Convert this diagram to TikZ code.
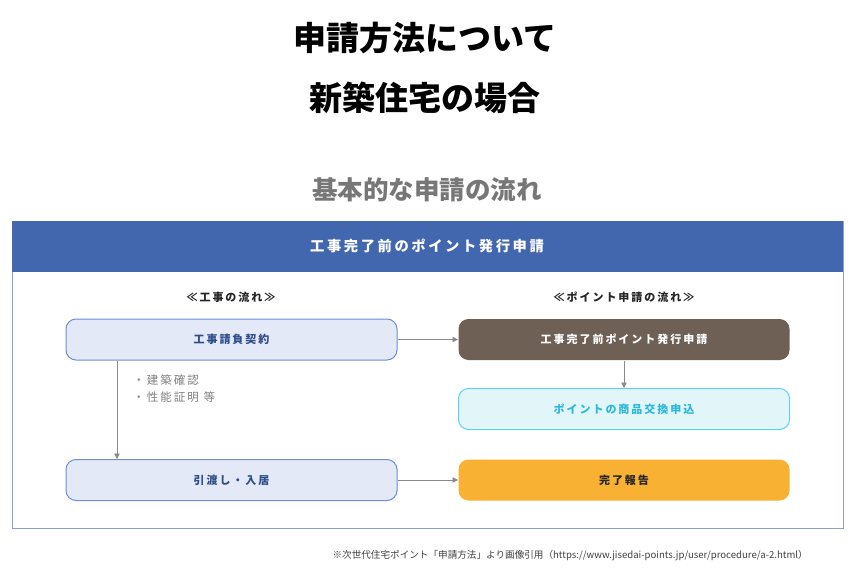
\documentclass[tikz,border=0pt]{standalone}
\usepackage{fontspec}
\setmainfont{Noto Sans CJK JP}
\newfontfamily\cjksp{Noto Sans CJK JP}[LetterSpace=18]
\usetikzlibrary{arrows.meta}
\definecolor{hdrblue}{HTML}{4267AE}
\definecolor{outerb}{HTML}{8DA0D4}
\definecolor{lfill}{HTML}{E3E9F6}
\definecolor{lborder}{HTML}{6F8ED0}
\definecolor{ltext}{HTML}{2F4C8C}
\definecolor{arrowg}{HTML}{8A8A8A}
\definecolor{brownb}{HTML}{6E6055}
\definecolor{cyfill}{HTML}{E2F6FA}
\definecolor{cyborder}{HTML}{5BD3EA}
\definecolor{cytext}{HTML}{2BB8DA}
\definecolor{orangeb}{HTML}{F8B133}
\definecolor{subgray}{HTML}{777777}
\tikzset{
  flowbox/.style={rounded corners=10pt, minimum width=331pt, minimum height=41pt, inner sep=0pt, font=\cjksp\bfseries\fontsize{11}{13}\selectfont, line width=1pt},
  leftbox/.style={flowbox, draw=lborder, fill=lfill, text=ltext},
  brownbox/.style={flowbox, fill=brownb, text=white},
  cyanbox/.style={flowbox, draw=cyborder, fill=cyfill, text=cytext},
  orangebox/.style={flowbox, fill=orangeb, text=black!85},
  conn/.style={draw=arrowg, line width=0.8pt, -{Triangle[width=5.5pt,length=5.5pt]}},
  colhead/.style={font=\cjksp\bfseries\fontsize{11}{13}\selectfont, text=black!85, inner sep=0pt}
}
\begin{document}
\begin{tikzpicture}[x=1pt,y=-1pt]
\useasboundingbox (0,0) rectangle (850,567);
\fill[white] (0,0) rectangle (850,567);
% titles
\node[font=\bfseries\fontsize{33}{36}\selectfont, inner sep=0pt] (t1) at (425,38) {申請方法について};
\node[font=\bfseries\fontsize{33}{36}\selectfont, inner sep=0pt] (t2) at (425,98) {新築住宅の場合};
\node[font=\bfseries\fontsize{25.5}{28}\selectfont, text=subgray, inner sep=0pt] (sub) at (427,190) {基本的な申請の流れ};
% outer box
\fill[white] (12,221) rectangle (843,528);
\draw[outerb, line width=1pt] (12,221) rectangle (843,528);
\fill[hdrblue] (12,221) rectangle (843,272);
\node[font=\cjksp\bfseries\fontsize{14.3}{16}\selectfont, text=white, inner sep=0pt] (hdr) at (427,246) {工事完了前のポイント発行申請};
% column heads
\node[colhead] (lh) at (231,297) {≪工事の流れ≫};
\node[colhead] (rh) at (624,297) {≪ポイント申請の流れ≫};
% boxes
\node[leftbox] (l1) at (231.5,339.5) {工事請負契約};
\node[leftbox] (l2) at (231.5,480) {引渡し・入居};
\node[brownbox] (r1) at (624,339.5) {工事完了前ポイント発行申請};
\node[cyanbox] (r2) at (624,409) {ポイントの商品交換申込};
\node[orangebox] (r3) at (624,480) {完了報告};
% notes
\node[anchor=north west, align=left, font=\cjksp\fontsize{11.5}{17}\selectfont, text=black!50, inner sep=0pt] (notes) at (133,375) {・建築確認\\・性能証明 等};
% connectors
\draw[conn] (l1.south -| 117,0) -- (l2.north -| 117,0);
\draw[conn] (r1) -- (r2);
\draw[conn] (l1) -- (r1);
\draw[conn] (l2) -- (r3);
% footer
\node[anchor=east, font=\fontsize{9.6}{11}\selectfont, text=black!75, inner sep=0pt] (foot) at (808,556) {※次世代住宅ポイント「申請方法」より画像引用（https://www.jisedai-points.jp/user/procedure/a-2.html）};
\end{tikzpicture}
\end{document}
